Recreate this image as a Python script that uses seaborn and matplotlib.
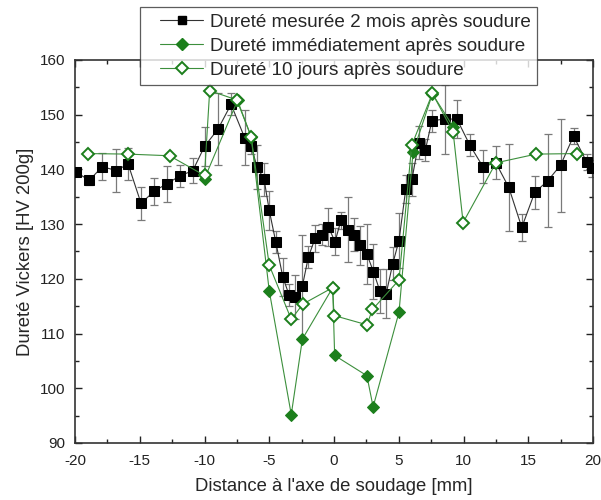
import numpy as np
import pandas as pd
import matplotlib
matplotlib.use("Agg")
import matplotlib.pyplot as plt
from matplotlib.ticker import MultipleLocator
from matplotlib.lines import Line2D
from matplotlib.legend_handler import HandlerLine2D
import seaborn as sns

# ---- data ----
x_2mois = [-19.9, -18.9, -17.9, -16.8, -15.9, -14.9, -13.9, -12.9, -11.9, -10.9,
           -10.0, -8.95, -7.95, -6.9, -6.4, -5.95, -5.4, -5.0, -4.5, -3.95,
           -3.46, -3.0, -2.44, -1.98, -1.46, -0.95, -0.44, 0.08, 0.54, 1.05,
           1.54, 2.0, 2.54, 3.05, 3.54, 4.03, 4.54, 5.02, 5.54, 6.02,
           6.54, 7.05, 7.56, 8.54, 9.49, 10.5, 11.5, 12.5, 13.5, 14.5,
           15.5, 16.5, 17.5, 18.5, 19.5, 19.9]
y_2mois = [139.5, 138.0, 140.5, 139.8, 141.0, 133.8, 136.0, 137.4, 138.8, 139.8,
           144.2, 147.4, 151.9, 145.8, 144.3, 140.5, 138.2, 132.5, 126.8, 120.3,
           117.0, 116.7, 118.7, 124.0, 127.4, 128.1, 129.5, 126.8, 130.7, 129.0,
           128.1, 126.1, 124.5, 121.3, 117.8, 117.3, 122.8, 127.0, 136.4, 138.2,
           144.9, 143.5, 148.9, 149.2, 149.2, 144.4, 140.5, 141.2, 136.7, 129.4,
           135.8, 137.9, 140.8, 146.1, 141.4, 140.2]
err_2mois = [0.6, 0.8, 2.5, 4.0, 3.0, 3.0, 2.5, 3.3, 2.0, 2.3,
             3.5, 6.5, 2.0, 5.0, 1.5, 4.0, 3.0, 3.5, 2.0, 3.5,
             2.0, 4.0, 9.3, 2.0, 2.5, 2.0, 3.5, 2.5, 1.5, 6.0,
             3.0, 3.5, 5.5, 5.0, 4.0, 4.5, 3.0, 5.0, 2.5, 3.0,
             3.0, 2.0, 2.0, 6.3, 3.5, 2.0, 3.0, 3.0, 8.0, 2.5,
             3.0, 8.5, 8.5, 1.5, 1.5, 1.5]

x_immed = [-10.0, -7.45, -6.4, -5.0, -3.3, -2.44, -0.1, 0.05, 2.54, 3.02,
           5.02, 6.1, 7.6, 9.2]
y_immed = [138.3, 152.6, 146.0, 117.8, 95.2, 109.0, 118.4, 106.0, 102.3, 96.6,
           113.9, 143.1, 153.8, 147.8]

x_10j = [-19.0, -15.9, -12.7, -10.0, -9.6, -7.5, -6.4, -5.0, -3.3, -2.4,
         -0.1, 0.0, 2.54, 2.97, 5.02, 6.0, 7.6, 9.2, 9.97, 12.5,
         15.6, 18.8]
y_10j = [142.9, 142.8, 142.5, 138.9, 154.4, 152.7, 146.0, 122.5, 112.6, 115.4,
         118.4, 113.3, 111.6, 114.4, 119.8, 144.4, 153.9, 146.8, 130.3, 141.2,
         142.8, 142.9]

labels = ["Dureté mesurée 2 mois après soudure",
          "Dureté immédiatement après soudure",
          "Dureté 10 jours après soudure"]
x_ticks = [-20, -15, -10, -5, 0, 5, 10, 15, 20]
y_ticks = [90, 100, 110, 120, 130, 140, 150, 160]

# ---- style ----
sns.set_style("ticks")
plt.rcParams["font.family"] = ["Liberation Sans", "DejaVu Sans"]

green = "#1c7f1c"
gline = "#3c8f3c"

fig = plt.figure(figsize=(6.01, 5.0), dpi=100)
ax = fig.add_axes([75 / 601, 1 - 443 / 500, (593 - 75) / 601, (443 - 60) / 500])

df1 = pd.DataFrame({"x": x_2mois, "y": y_2mois, "e": err_2mois})
df2 = pd.DataFrame({"x": x_immed, "y": y_immed})
df3 = pd.DataFrame({"x": x_10j, "y": y_10j})

# error bars for the 2-month series
ax.errorbar(df1["x"], df1["y"], yerr=df1["e"], fmt="none", ecolor="#7a7a7a",
            elinewidth=0.9, capsize=3, capthick=0.9, zorder=2)

sns.lineplot(data=df1, x="x", y="y", sort=False, estimator=None, ax=ax,
             color="#333333", linewidth=0.8, marker="s", markersize=6.5,
             markerfacecolor="black", markeredgecolor="black", zorder=3)
sns.lineplot(data=df2, x="x", y="y", sort=False, estimator=None, ax=ax,
             color=gline, linewidth=0.8, marker="D", markersize=6,
             markerfacecolor=green, markeredgecolor=green, zorder=4)
sns.lineplot(data=df3, x="x", y="y", sort=False, estimator=None, ax=ax,
             color=gline, linewidth=0.8, marker="D", markersize=6,
             markerfacecolor="white", markeredgecolor=green,
             markeredgewidth=1.4, zorder=5)

ax.set_xlim(-20, 20)
ax.set_ylim(90, 160)
ax.set_xticks(x_ticks)
ax.set_yticks(y_ticks)
ax.set_xticklabels([str(t) for t in x_ticks])
ax.xaxis.set_minor_locator(MultipleLocator(2.5))
ax.yaxis.set_minor_locator(MultipleLocator(5))
ax.tick_params(which="both", direction="in", top=True, right=True,
               labelsize=11, colors="#222222", width=1.0)
ax.tick_params(which="major", length=5)
ax.tick_params(which="minor", length=3)
ax.tick_params(axis="x", which="major", pad=8)
ax.tick_params(axis="y", which="major", pad=7)
for s in ax.spines.values():
    s.set_linewidth(1.2)
    s.set_color("#333333")

ax.set_xlabel("Distance à l'axe de soudage [mm]", fontsize=13.3, labelpad=7)
ax.set_ylabel("Dureté Vickers [HV 200g]", fontsize=13.3, labelpad=4)

handles = [
    Line2D([], [], color="#333333", lw=0.8, marker="s", markersize=6,
           markerfacecolor="black", markeredgecolor="black"),
    Line2D([], [], color=gline, lw=0.8, marker="D", markersize=6,
           markerfacecolor=green, markeredgecolor=green),
    Line2D([], [], color=gline, lw=0.8, marker="D", markersize=6,
           markerfacecolor="white", markeredgecolor=green, markeredgewidth=1.4),
]
hmap = {h: HandlerLine2D(xpad=0.7) for h in handles}
leg = fig.legend(handles, labels, loc="upper left",
                 bbox_to_anchor=(140 / 601, 1 - 7 / 500),
                 fontsize=13.6, frameon=True, fancybox=False,
                 borderpad=0.35, labelspacing=0.36, handlelength=3.0,
                 handletextpad=0.35, borderaxespad=0.0, handler_map=hmap)
leg.get_frame().set_edgecolor("#333333")
leg.get_frame().set_linewidth(0.9)
leg.set_zorder(10)

fig.savefig("out.png", dpi=100, facecolor="white")
